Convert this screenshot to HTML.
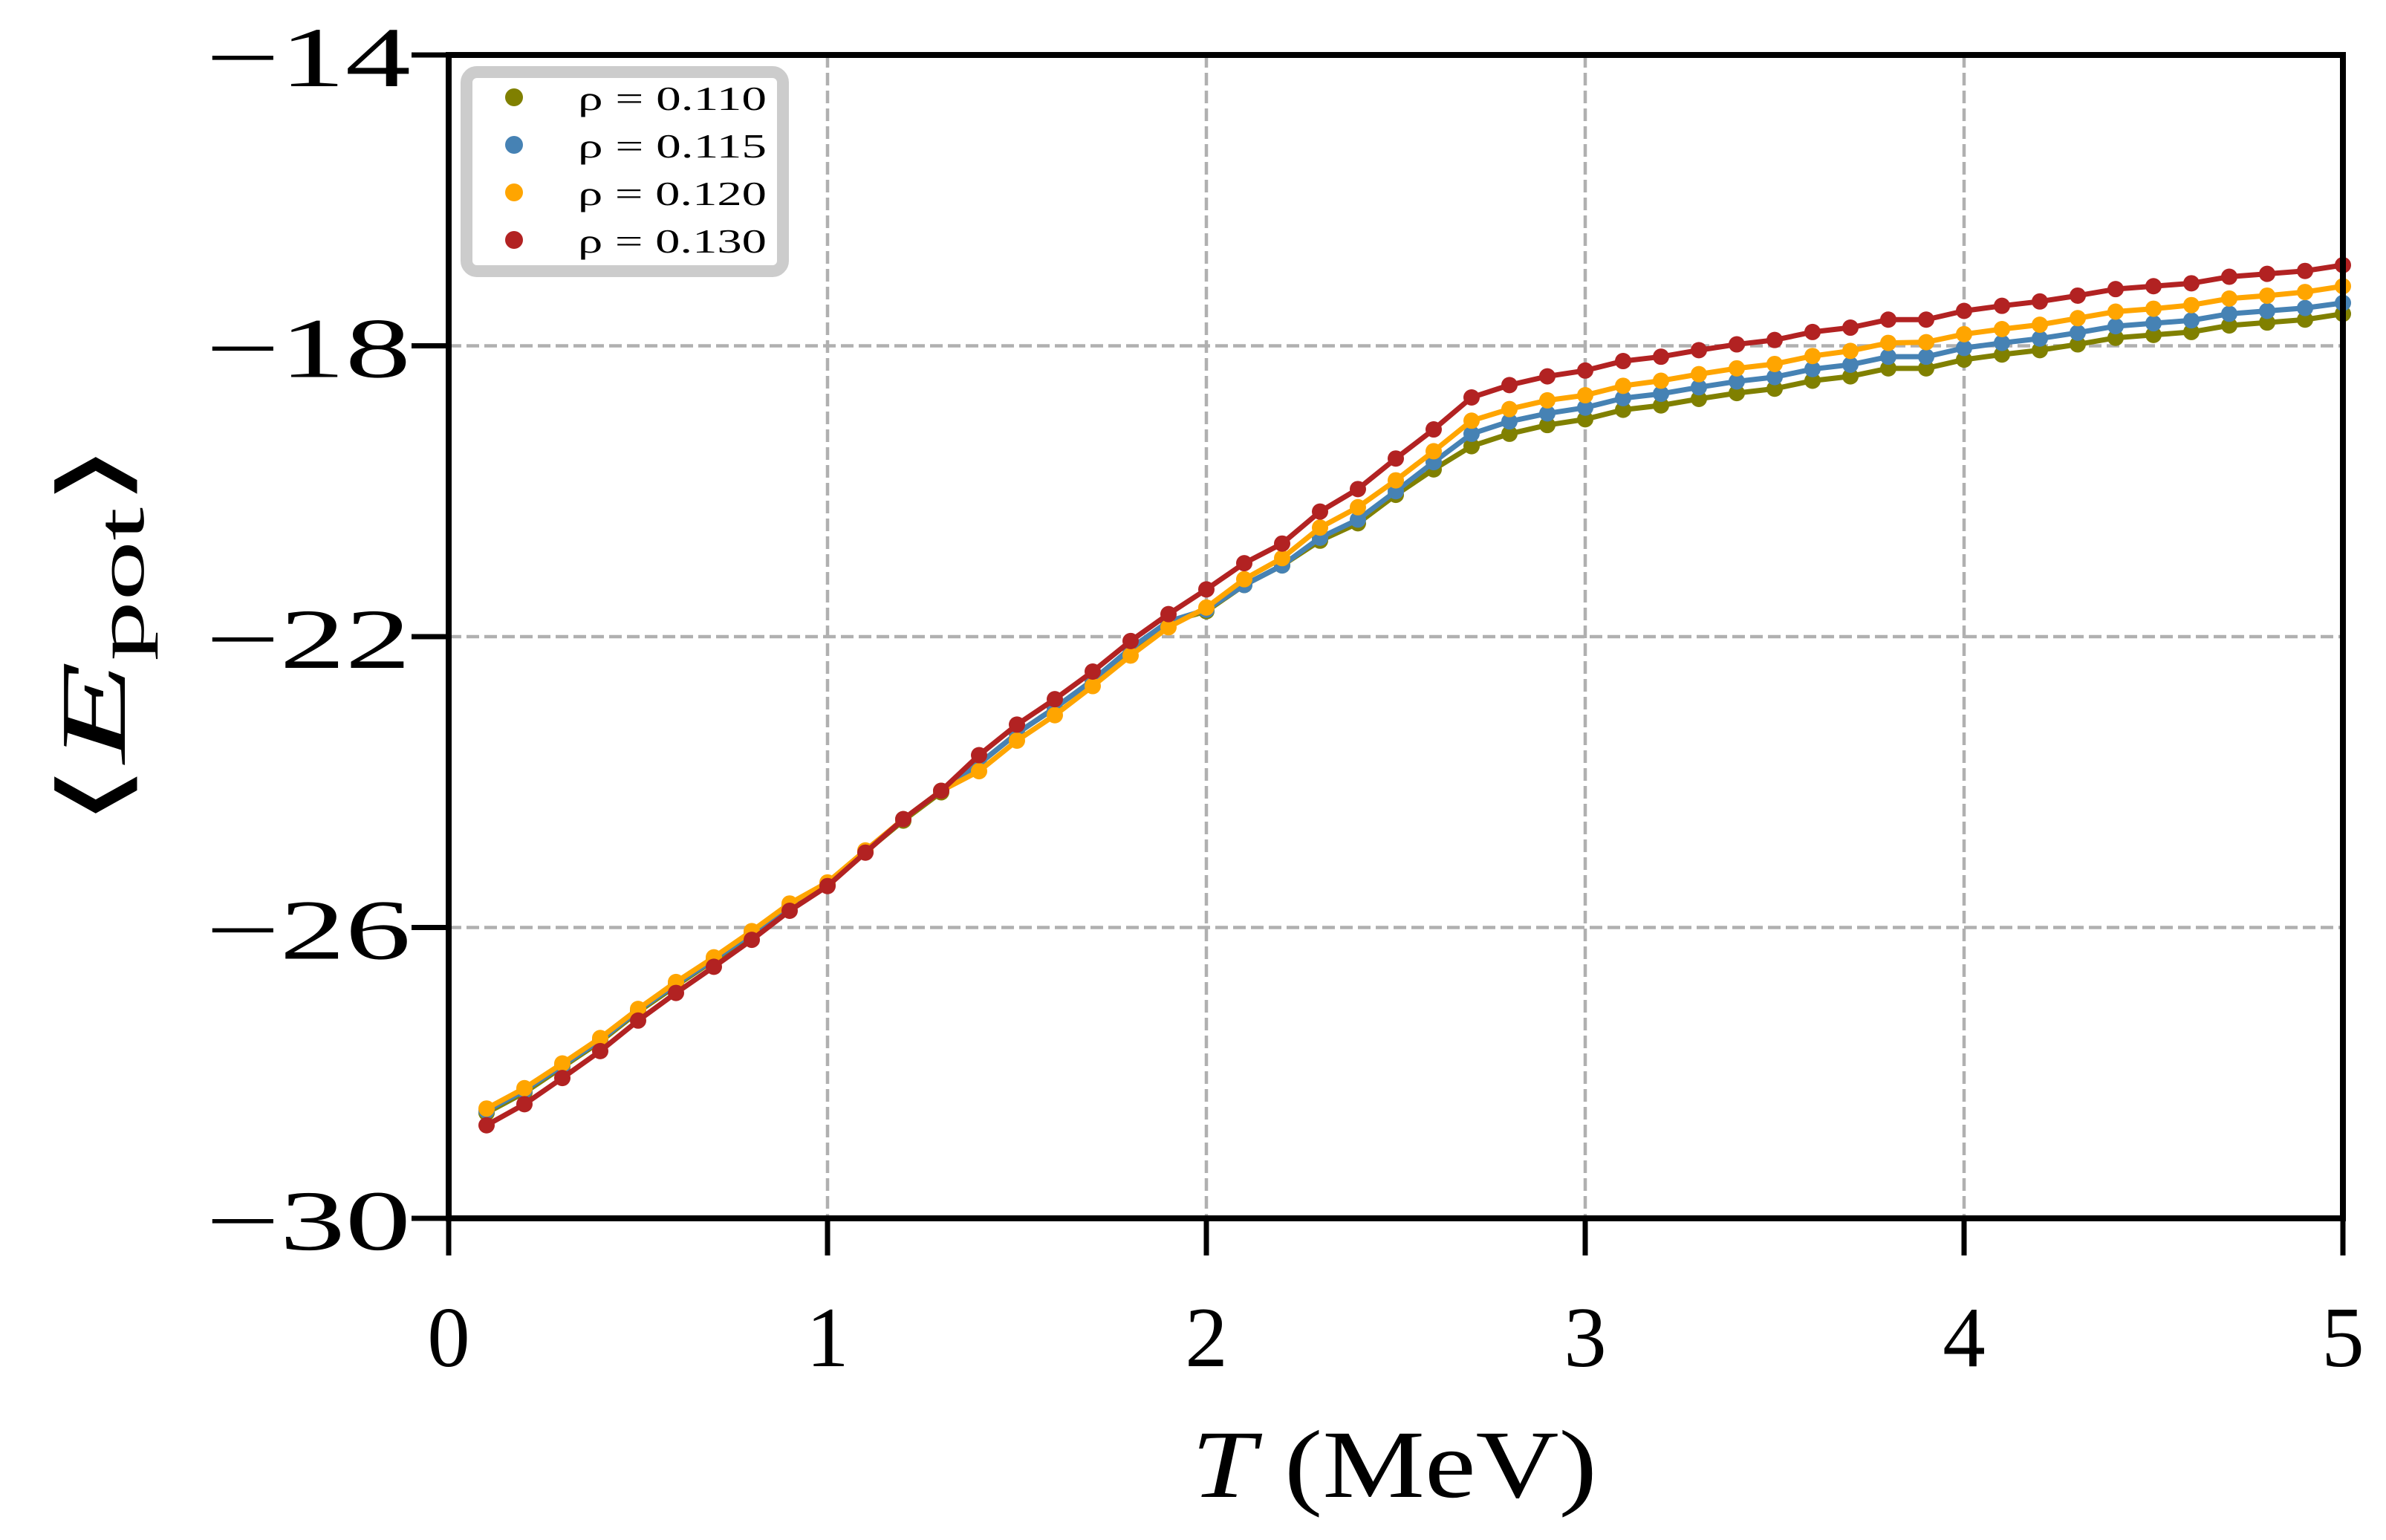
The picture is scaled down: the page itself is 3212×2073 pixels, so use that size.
<!DOCTYPE html>
<html><head><meta charset="utf-8"><style>html,body{margin:0;padding:0;background:#fff}svg{display:block}</style></head>
<body>
<svg id="chart" width="3212" height="2073" viewBox="0 0 3212 2073" xmlns="http://www.w3.org/2000/svg" font-family="'Liberation Serif', serif">
<g id="grid"></g>
<g id="series"></g>
<g id="axes"></g>
<g id="legend"></g>
<text x="1877" y="2015" font-size="130" text-anchor="middle" textLength="546" lengthAdjust="spacingAndGlyphs"><tspan font-style="italic">T</tspan> (MeV)</text>
<text transform="translate(168,855) rotate(-90)" font-size="125" text-anchor="middle" textLength="520" lengthAdjust="spacingAndGlyphs"><tspan font-family="'DejaVu Sans', sans-serif" font-weight="200">⟨</tspan><tspan font-style="italic">E</tspan><tspan font-size="90" dy="25">pot</tspan><tspan dy="-25" font-family="'DejaVu Sans', sans-serif" font-weight="200">⟩</tspan></text>
</svg>
<script>
const temps = [0.1,0.2,0.3,0.4,0.5,0.6,0.7,0.8,0.9,1.0,1.1,1.2,1.3,1.4,1.5,1.6,1.7,1.8,1.9,2.0,2.1,2.2,2.3,2.4,2.5,2.6,2.7,2.8,2.9,3.0,3.1,3.2,3.3,3.4,3.5,3.6,3.7,3.8,3.9,4.0,4.1,4.2,4.3,4.4,4.5,4.6,4.7,4.8,4.9,5.0];
const rho110 = [-28.55,-28.27,-27.92,-27.57,-27.16,-26.80,-26.45,-26.10,-25.71,-25.41,-24.96,-24.53,-24.14,-23.75,-23.33,-22.98,-22.60,-22.17,-21.80,-21.65,-21.29,-21.02,-20.68,-20.44,-20.05,-19.70,-19.38,-19.21,-19.09,-19.01,-18.88,-18.82,-18.73,-18.65,-18.59,-18.48,-18.42,-18.31,-18.31,-18.19,-18.12,-18.06,-17.98,-17.89,-17.85,-17.81,-17.72,-17.68,-17.64,-17.56];
const rho115 = [-28.52,-28.24,-27.90,-27.55,-27.14,-26.78,-26.44,-26.08,-25.69,-25.40,-24.95,-24.51,-24.12,-23.75,-23.33,-22.98,-22.60,-22.16,-21.79,-21.63,-21.29,-21.02,-20.64,-20.39,-20.00,-19.60,-19.21,-19.04,-18.93,-18.85,-18.72,-18.66,-18.57,-18.49,-18.43,-18.32,-18.26,-18.15,-18.15,-18.03,-17.96,-17.90,-17.82,-17.73,-17.69,-17.65,-17.56,-17.52,-17.48,-17.41];
const rho120 = [-28.49,-28.21,-27.87,-27.52,-27.12,-26.75,-26.41,-26.05,-25.67,-25.38,-24.94,-24.51,-24.12,-23.85,-23.43,-23.08,-22.68,-22.26,-21.87,-21.60,-21.21,-20.92,-20.50,-20.22,-19.85,-19.45,-19.03,-18.87,-18.75,-18.68,-18.55,-18.48,-18.39,-18.31,-18.25,-18.14,-18.07,-17.96,-17.95,-17.84,-17.77,-17.71,-17.62,-17.53,-17.49,-17.44,-17.35,-17.31,-17.26,-17.18];
const rho130 = [-28.72,-28.43,-28.07,-27.70,-27.28,-26.90,-26.54,-26.17,-25.77,-25.43,-24.97,-24.51,-24.12,-23.63,-23.21,-22.86,-22.48,-22.06,-21.69,-21.35,-20.99,-20.72,-20.28,-19.97,-19.55,-19.15,-18.71,-18.54,-18.42,-18.34,-18.21,-18.15,-18.06,-17.98,-17.92,-17.81,-17.75,-17.64,-17.64,-17.52,-17.45,-17.39,-17.31,-17.22,-17.18,-17.14,-17.05,-17.01,-16.97,-16.89];
const seriesLabels = ["ρ = 0.110","ρ = 0.115","ρ = 0.120","ρ = 0.130"];
const seriesNames = ["rho-0110","rho-0115","rho-0120","rho-0130"];
const xTicks = [0,1,2,3,4,5];
const xTickLabels = ["0","1","2","3","4","5"];
const yTicks = [-30,-26,-22,-18,-14];
const yTickLabels = ["−30","−26","−22","−18","−14"];

const NS="http://www.w3.org/2000/svg";
const L=604,R=3154,T=74,B=1640, xMin=0,xMax=5,yMin=-30,yMax=-14;
const sx=v=>L+(v-xMin)/(xMax-xMin)*(R-L);
const sy=v=>B-(v-yMin)/(yMax-yMin)*(B-T);
function mk(tag,attrs,parent){const e=document.createElementNS(NS,tag);for(const k in attrs)e.setAttribute(k,attrs[k]);parent.appendChild(e);return e;}
const grid=document.getElementById('grid'),axes=document.getElementById('axes'),ser=document.getElementById('series'),leg=document.getElementById('legend');
const colors=["#808000","#4682b4","#ffa500","#b22222"];
const allSeries=[rho110,rho115,rho120,rho130];

xTicks.forEach((t,i)=>{
  if(t>xMin&&t<xMax){const g=mk('line',{x1:sx(t),x2:sx(t),y1:T,y2:B,stroke:'#b0b0b0','stroke-width':4.5,'stroke-dasharray':'17 7'},grid);
  
  }
  const tk=mk('line',{x1:sx(t),x2:sx(t),y1:B,y2:B+50,stroke:'#000','stroke-width':7},axes);
  
  
  const lb=mk('text',{x:sx(t),y:1839,'font-size':115,'text-anchor':'middle'},axes);
  lb.textContent=xTickLabels[i];
  
  
});
yTicks.forEach((t,i)=>{
  if(t>yMin&&t<yMax){const g=mk('line',{x1:L,x2:R,y1:sy(t),y2:sy(t),stroke:'#b0b0b0','stroke-width':4.5,'stroke-dasharray':'17 7'},grid);
  
  }
  const tk=mk('line',{x1:L-50,x2:L,y1:sy(t),y2:sy(t),stroke:'#000','stroke-width':7},axes);
  
  
  const lb=mk('text',{x:553,y:sy(t)+42,'font-size':115,'text-anchor':'end',textLength:276,lengthAdjust:'spacingAndGlyphs'},axes);
  lb.textContent=yTickLabels[i];
  
  
});
allSeries.forEach((vals,si)=>{
  const g=mk('g',{},ser);
  
  
  const pts=temps.map((t,i)=>sx(t)+','+sy(vals[i])).join(' ');
  const pl=mk('polyline',{points:pts,fill:'none',stroke:colors[si],'stroke-width':7,'stroke-linejoin':'round'},g);
  
  
  temps.forEach((t,i)=>{
    const c=mk('circle',{cx:sx(t),cy:sy(vals[i]),r:11,fill:colors[si]},g);
    
    
  });
});
const frame=mk('rect',{x:L,y:T,width:R-L,height:B-T,fill:'none',stroke:'#000','stroke-width':8},axes);


const box=mk('rect',{x:628,y:97,width:426,height:268,rx:14,fill:'#fff',stroke:'#cccccc','stroke-width':16},leg);


seriesLabels.forEach((s,i)=>{
  const y=131+64*i;
  const c=mk('circle',{cx:692,cy:y,r:12,fill:colors[i]},leg);
  
  
  const tx=mk('text',{x:778,y:y+17,'font-size':46,textLength:254,lengthAdjust:'spacingAndGlyphs'},leg);
  tx.textContent=s;
  
  
});
</script>
</body></html>
